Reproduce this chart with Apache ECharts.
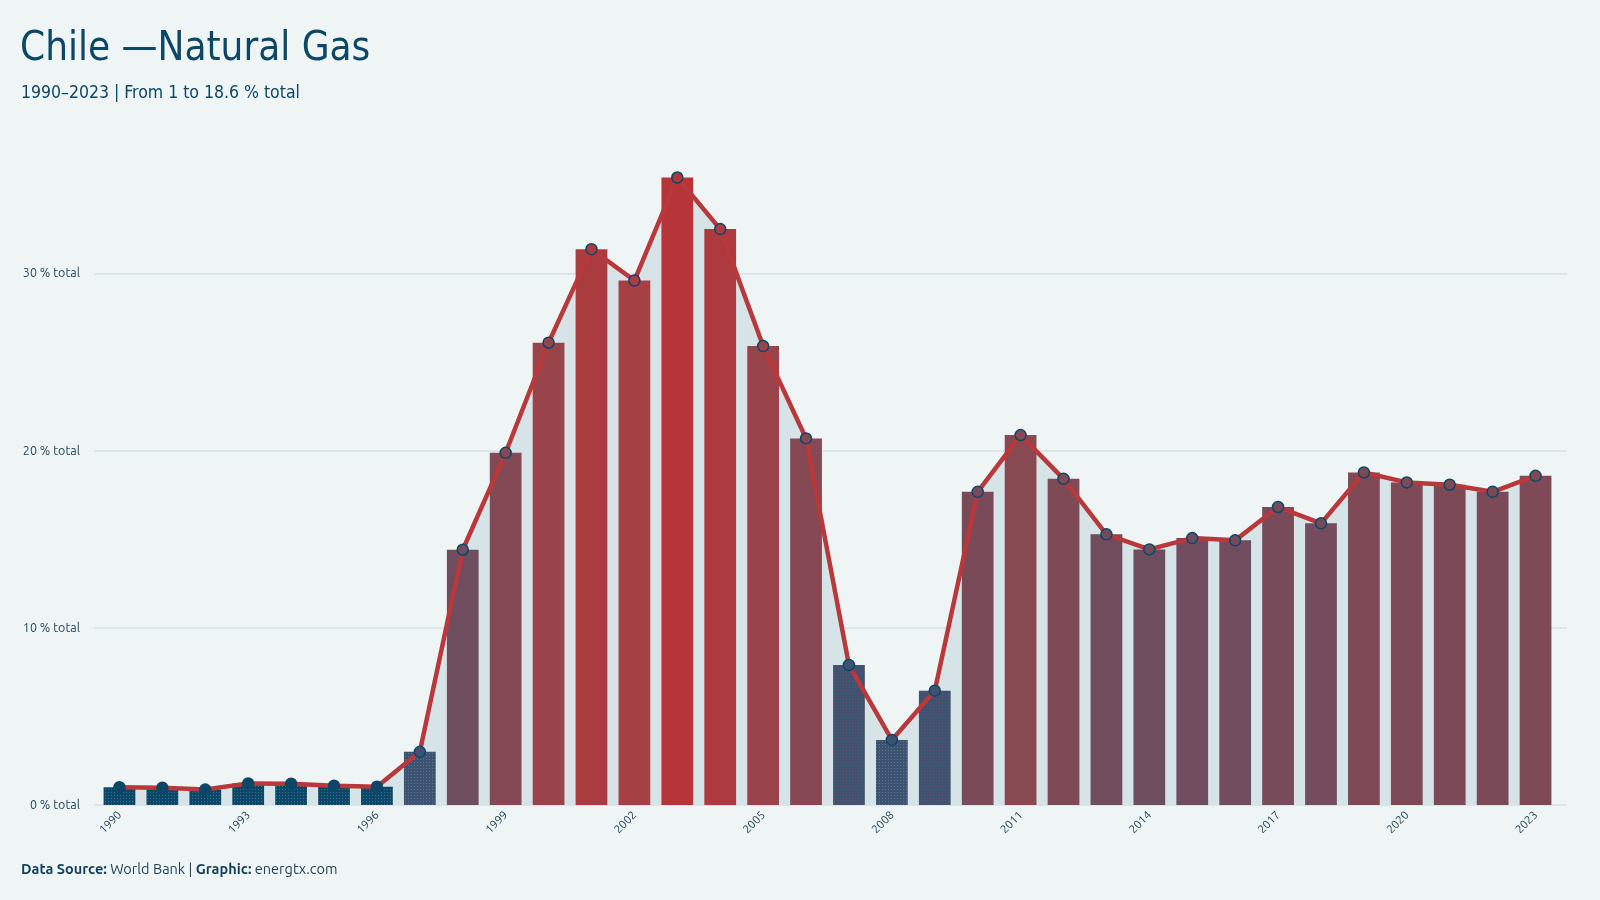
<!DOCTYPE html>
<html>
<head>
<meta charset="utf-8">
<script src="https://cdn.jsdelivr.net/npm/echarts@6/dist/echarts.min.js"></script>
<style>
html,body{margin:0;padding:0;background:#eff5f5;}
#chart{width:1600px;height:900px;}
</style>
</head>
<body>
<div id="chart"></div>
<script>
var years = ['1990','1991','1992','1993','1994','1995','1996','1997','1998','1999','2000','2001','2002','2003','2004','2005','2006','2007','2008','2009','2010','2011','2012','2013','2014','2015','2016','2017','2018','2019','2020','2021','2022','2023'];
var shares = [1.0,0.98,0.87,1.22,1.2,1.09,1.03,3.0,14.4,19.87,26.08,31.36,29.59,35.4,32.49,25.89,20.68,7.9,3.67,6.45,17.67,20.87,18.4,15.27,14.42,15.06,14.93,16.81,15.89,18.76,18.2,18.07,17.67,18.57];
var yTicks = [0,10,20,30];

var DARK = '#0c4767';
var FONT_COND = '"Ubuntu Condensed","DejaVu Sans Condensed","Liberation Sans Narrow","Roboto Condensed",sans-serif';
var FONT = '"Ubuntu","Noto Sans","Open Sans",sans-serif';

function hex2rgb(h){return [parseInt(h.substr(1,2),16),parseInt(h.substr(3,2),16),parseInt(h.substr(5,2),16)];}
function rgb2hex(c){return '#'+c.map(function(x){var s=Math.round(x).toString(16);return s.length<2?'0'+s:s;}).join('');}
var stops = [[14,'#6c4d60'],[18,'#7c4a57'],[21,'#874952'],[26,'#99444a'],[30,'#a63f43'],[35.4,'#b53538']];
function colorFor(v){
  if(v<2) return DARK;
  if(v<10) return '#3e5271';
  if(v<=stops[0][0]) return stops[0][1];
  for(var i=1;i<stops.length;i++){
    if(v<=stops[i][0]){
      var a=stops[i-1],b=stops[i],t=(v-a[0])/(b[0]-a[0]);
      var ca=hex2rgb(a[1]),cb=hex2rgb(b[1]);
      return rgb2hex([0,1,2].map(function(k){return ca[k]+(cb[k]-ca[k])*t;}));
    }
  }
  return stops[stops.length-1][1];
}

var barData = shares.map(function(v){
  var item = {value:v, itemStyle:{color:colorFor(v)}};
  if(v<10){
    item.itemStyle.decal = {symbol:'rect', symbolSize:0.9, dashArrayX:[1,2], dashArrayY:[1,2],
      color: v<5 ? 'rgba(120,175,195,0.45)' : 'rgba(190,70,70,0.4)'};
  }
  return item;
});

var chart = echarts.init(document.getElementById('chart'));
chart.setOption({
  backgroundColor:'#eff5f5',
  animation:false,
  title:[
    {text:'Chile \u2014Natural Gas', left:20, top:30, padding:0, textStyle:{fontFamily:FONT_COND, fontSize:40, fontWeight:'normal', color:DARK}},
    {text:'1990\u20132023 | From 1 to 18.6 % total', left:21, top:84, padding:0, textStyle:{fontFamily:FONT_COND, fontSize:17.5, fontWeight:'normal', color:DARK}},
    {text:'{b|Data Source:} World Bank | {b|Graphic:} energtx.com', left:21, top:862, padding:0,
     textStyle:{fontFamily:FONT, fontSize:14.5, fontWeight:'normal', color:'#1b3f57',
       rich:{b:{fontFamily:FONT, fontSize:14.5, fontWeight:'bold', color:'#123f5a'}}}}
  ],
  grid:[
    {left:94, right:33, top:96, bottom:95},
    {left:98, right:43, top:96, bottom:95}
  ],
  xAxis:[
    {type:'value', gridIndex:0, min:0, max:1, show:false},
    {type:'category', gridIndex:1, data:years, boundaryGap:true,
     axisLine:{show:false}, axisTick:{show:false},
     axisLabel:{interval:2, rotate:45, margin:8, fontFamily:FONT, fontSize:11.5, color:'#1b3f57'}}
  ],
  yAxis:[
    {type:'value', gridIndex:0, min:0, max:40, interval:10,
     axisLine:{show:false}, axisTick:{show:false},
     axisLabel:{showMaxLabel:false, margin:14, fontFamily:FONT, fontSize:12.5, color:'#1b3f57',
       formatter:function(v){return yTicks.indexOf(v)>=0 ? v+' % total' : '';}},
     splitLine:{lineStyle:{color:['#d6e1e4','#d6e1e4','#d6e1e4','#d6e1e4','rgba(0,0,0,0)'], width:1.5}}},
    {type:'value', gridIndex:1, min:0, max:40, interval:10, show:false, splitLine:{show:false}}
  ],
  series:[
    {type:'line', xAxisIndex:1, yAxisIndex:1, data:shares, z:1, showSymbol:false, symbol:'none',
     lineStyle:{width:0, opacity:0}, areaStyle:{color:'#d6e4e8', opacity:1}, silent:true},
    {type:'bar', xAxisIndex:1, yAxisIndex:1, data:barData, z:2, barCategoryGap:'26%'},
    {type:'line', xAxisIndex:1, yAxisIndex:1, data:shares, z:3, symbol:'circle', symbolSize:11, showAllSymbol:true,
     lineStyle:{color:'#b8383b', width:4.5},
     itemStyle:{color:function(p){return colorFor(p.value);}, borderColor:'#0c4767', borderWidth:1.5}}
  ]
});
</script>
</body>
</html>
